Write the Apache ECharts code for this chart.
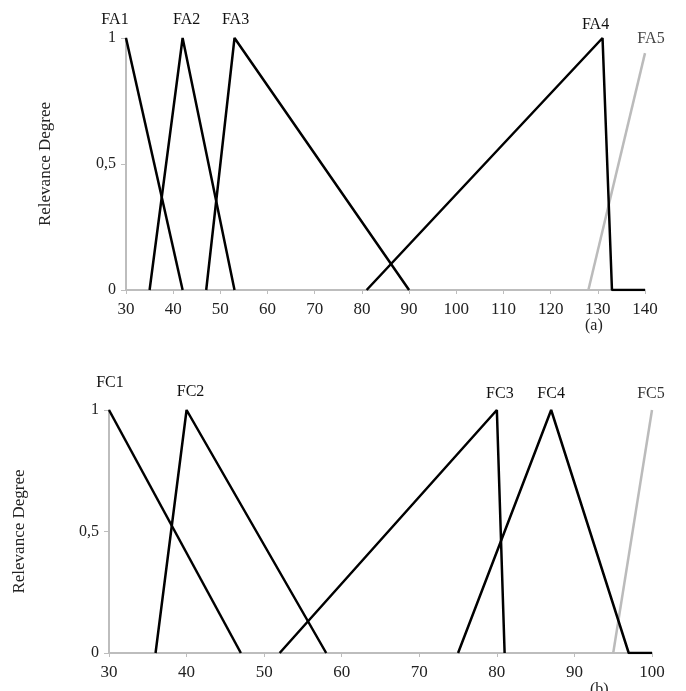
<!DOCTYPE html>
<html>
<head>
<meta charset="utf-8">
<script src="https://cdn.jsdelivr.net/npm/echarts@6/dist/echarts.min.js"></script>
<style>
  html, body { margin: 0; padding: 0; background: #fff; }
  #main { width: 686px; height: 691px; }
</style>
</head>
<body>
<div id="main"></div>
<script>
// (a) 上图 FA1..FA5 的折线点 [x, 隶属度]
var fa1 = [[30, 1], [42, 0]];
var fa2 = [[35, 0], [42, 1], [53, 0]];
var fa3 = [[47, 0], [53, 1], [90, 0]];
var fa4 = [[81, 0], [131, 1], [133, 0], [140, 0]];
var fa5 = [[128, 0], [140, 0.94]];

// (b) 下图 FC1..FC5
var fc1 = [[30, 1], [47, 0]];
var fc2 = [[36, 0], [40, 1], [58, 0]];
var fc3 = [[52, 0], [80, 1], [81, 0]];
var fc4 = [[75, 0], [87, 1], [97, 0], [100, 0]];
var fc5 = [[95, 0], [100, 1]];

var yTicks = ['0', '0,5', '1'];
var FONT = '"Liberation Serif", "DejaVu Serif", serif';

var myChart = echarts.init(document.getElementById('main'));

// 把峰值那个点加上标签
function withLabel(points, peakIndex, name, offset, color) {
	return points.map(function(p, i) {
		if (i !== peakIndex) return p;
		return {
			value: p,
			label: {
				show: true,
				position: 'top',
				formatter: name,
				offset: offset,
				color: color || '#111',
				fontFamily: FONT,
				fontSize: 16
			}
		};
	});
}

function lineSeries(data, xi, color) {
	return {
		type: 'line',
		xAxisIndex: xi,
		yAxisIndex: xi,
		data: data,
		symbol: 'circle',
		symbolSize: 0.01,
		showSymbol: true,
		showAllSymbol: true,
		itemStyle: { color: 'rgba(0,0,0,0)' },
		animation: false,
		lineStyle: { color: color || '#000', width: 2.5 },
		z: color ? 2 : 3
	};
}

function xAxisCfg(gi, min, max) {
	return {
		type: 'value',
		gridIndex: gi,
		min: min,
		max: max,
		interval: 10,
		axisLine: { show: true, lineStyle: { color: '#bdbdbd', width: 2 } },
		axisTick: { show: true, length: 4, lineStyle: { color: '#bdbdbd' } },
		splitLine: { show: false },
		axisLabel: { color: '#222', fontFamily: FONT, fontSize: 17, margin: 11 }
	};
}

function yAxisCfg(gi, gap) {
	return {
		type: 'value',
		gridIndex: gi,
		min: 0,
		max: 1,
		interval: 0.5,
		name: 'Relevance Degree',
		nameLocation: 'middle',
		nameGap: gap,
		nameTextStyle: { color: '#222', fontFamily: FONT, fontSize: 17 },
		axisLine: { show: true, lineStyle: { color: '#bdbdbd', width: 2 } },
		axisTick: { show: true, length: 5, lineStyle: { color: '#bdbdbd' } },
		splitLine: { show: false },
		axisLabel: {
			color: '#222', fontFamily: FONT, fontSize: 16, margin: 10,
			formatter: function(v) { return yTicks[Math.round(v * 2)]; }
		}
	};
}

var option = {
	backgroundColor: '#fff',
	animation: false,
	grid: [
		{ left: 126, right: 41, top: 38, height: 252, outerBoundsMode: 'none' },
		{ left: 109, right: 34, top: 410, height: 243, outerBoundsMode: 'none' }
	],
	xAxis: [xAxisCfg(0, 30, 140), xAxisCfg(1, 30, 100)],
	yAxis: [yAxisCfg(0, 72), yAxisCfg(1, 81)],
	graphic: [
		{ type: 'text', left: 585, top: 318, style: { text: '(a)', fill: '#222', font: '16px ' + FONT } },
		{ type: 'text', left: 590, top: 682, style: { text: '(b)', fill: '#222', font: '16px ' + FONT } }
	],
	series: [
		lineSeries(withLabel(fa1, 0, 'FA1', [-11, -5]), 0),
		lineSeries(withLabel(fa2, 1, 'FA2', [4, -5]), 0),
		lineSeries(withLabel(fa3, 1, 'FA3', [1, -5]), 0),
		lineSeries(withLabel(fa4, 1, 'FA4', [-7, 0]), 0),
		lineSeries(withLabel(fa5, 1, 'FA5', [6, -1], '#444'), 0, '#bbbbbb'),
		lineSeries(withLabel(fc1, 0, 'FC1', [1, -14]), 1),
		lineSeries(withLabel(fc2, 1, 'FC2', [4, -5]), 1),
		lineSeries(withLabel(fc3, 1, 'FC3', [3, -3]), 1),
		lineSeries(withLabel(fc4, 1, 'FC4', [0, -3]), 1),
		lineSeries(withLabel(fc5, 1, 'FC5', [-1, -3], '#333'), 1, '#bbbbbb')
	]
};

myChart.setOption(option);
</script>
</body>
</html>
